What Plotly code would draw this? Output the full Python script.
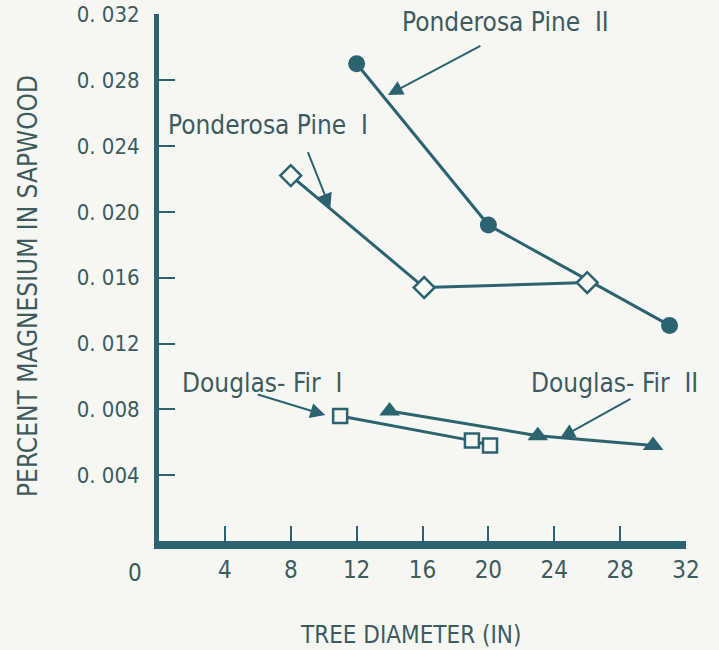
import plotly.graph_objects as go

# Data
pp2_x = [12, 20, 31]
pp2_y = [0.0290, 0.0192, 0.0131]
pp1_x = [8, 16.1, 26]
pp1_y = [0.0222, 0.0154, 0.0157]
df1_x = [11, 19, 20.1]
df1_y = [0.0076, 0.0061, 0.0058]
df2_x = [14, 23, 30]
df2_y = [0.0079, 0.0064, 0.0058]

x_ticks = [4, 8, 12, 16, 20, 24, 28, 32]
y_ticks = [0.004, 0.008, 0.012, 0.016, 0.020, 0.024, 0.028, 0.032]
y_ticklabels = ["0. 004", "0. 008", "0. 012", "0. 016", "0. 020", "0. 024", "0. 028", "0. 032"]

C = "#2c6370"
TXT = "#3e5b5e"
BG = "#f6f6f3"
FONT = "DejaVu Sans Condensed, Liberation Sans Narrow, Roboto, sans-serif"

W, H = 719, 650
L, R, T, B = 159, 33, 14, 109
PW, PH = W - L - R, H - T - B


def px2paper(px, py):
    return (px - L) / PW, 1 - (py - T) / PH


fig = go.Figure()
fig.add_trace(go.Scatter(x=pp2_x, y=pp2_y, mode="lines+markers",
                         line=dict(color=C, width=3),
                         marker=dict(symbol="circle", size=17, color=C)))
fig.add_trace(go.Scatter(x=pp1_x, y=pp1_y, mode="lines+markers",
                         line=dict(color=C, width=3),
                         marker=dict(symbol="diamond", size=16, color=BG,
                                     line=dict(color=C, width=2.5))))
fig.add_trace(go.Scatter(x=df2_x, y=df2_y, mode="lines+markers",
                         line=dict(color=C, width=3),
                         marker=dict(symbol="triangle-up", size=18, color=C)))
fig.add_trace(go.Scatter(x=df1_x, y=df1_y, mode="lines+markers",
                         line=dict(color=C, width=3),
                         marker=dict(symbol="square", size=14, color=BG,
                                     line=dict(color=C, width=2.5))))

labels = [
    ("Ponderosa Pine  II", 505, 22),
    ("Ponderosa Pine  I", 268, 125),
    ("Douglas- Fir  I", 262, 383),
    ("Douglas- Fir  II", 614, 383),
]
ann = []
for t, px, py in labels:
    xp, yp = px2paper(px, py)
    ann.append(dict(x=xp, y=yp, xref="paper", yref="paper",
                    text=t, showarrow=False, font=dict(size=26, color=TXT, family=FONT),
                    xanchor="center", yanchor="middle"))
# arrows (head in data coords, tail as pixel offsets)
arrows = [
    (13.9, 0.0271, 94, -50),
    (10.4, 0.0202, -23, -58),
    (10.1, 0.00765, -69, -21),
    (24.35, 0.00625, 72, -40),
]
for hx, hy, ax, ay in arrows:
    ann.append(dict(x=hx, y=hy, xref="x", yref="y", ax=ax, ay=ay, text="",
                    showarrow=True, arrowhead=2, arrowsize=1.5, arrowwidth=2,
                    arrowcolor=C))
# origin label
xp, yp = px2paper(135, 573)
ann.append(dict(x=xp, y=yp, xref="paper", yref="paper", text="0",
                showarrow=False, font=dict(size=24, color=TXT, family=FONT),
                xanchor="center", yanchor="middle"))
# x title
xp, yp = px2paper(410, 635)
ann.append(dict(x=xp, y=yp, xref="paper", yref="paper",
                text="TREE DIAMETER (IN)", showarrow=False,
                font=dict(size=24, color=TXT, family=FONT),
                xanchor="center", yanchor="middle"))
# y title
xp, yp = px2paper(28, 286)
ann.append(dict(x=xp, y=yp, xref="paper", yref="paper",
                text="PERCENT MAGNESIUM IN SAPWOOD", showarrow=False, textangle=-90,
                font=dict(size=26, color=TXT, family=FONT),
                xanchor="center", yanchor="middle"))

fig.update_layout(
    width=W, height=H,
    margin=dict(l=L, r=R, t=T, b=B, pad=0, autoexpand=False),
    paper_bgcolor=BG, plot_bgcolor=BG,
    showlegend=False,
    annotations=ann,
    font=dict(family=FONT, color=TXT),
    xaxis=dict(range=[0, 32.0001], tickvals=x_ticks, ticks="inside", ticklen=15,
               tickwidth=2, tickcolor=C, showline=True, linecolor=C, linewidth=8,
               showgrid=False, zeroline=False, automargin=False,
               tickfont=dict(size=24, color=TXT, family=FONT)),
    yaxis=dict(range=[0, 0.03202], tickvals=y_ticks, ticktext=y_ticklabels,
               ticks="inside", ticklen=16, tickwidth=2, tickcolor=C,
               showline=True, linecolor=C, linewidth=5,
               showgrid=False, zeroline=False, ticklabelstandoff=10, automargin=False,
               tickfont=dict(size=22, color=TXT, family=FONT)),
)

fig.write_html("out.html")
